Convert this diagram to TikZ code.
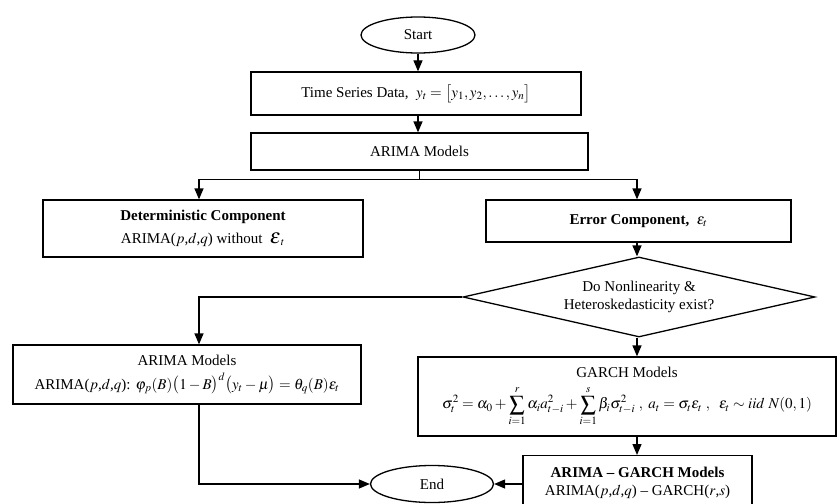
\documentclass[tikz,border=0pt]{standalone}
\usepackage{mathptmx}
\usepackage[no-math]{fontspec}
\setmainfont{Liberation Serif}
\usetikzlibrary{shapes.geometric,arrows.meta}
\begin{document}
\begin{tikzpicture}[x=1pt,y=-1pt,
  every node/.style={font=\fontsize{15}{18}\selectfont},
  box/.style={draw, line width=1.3pt, rectangle, align=center, inner sep=0pt},
  term/.style={draw, line width=1.3pt, ellipse, inner sep=0pt},
  decision/.style={draw, line width=1.3pt, diamond, aspect=4.4, inner sep=0pt, align=center},
  arr/.style={line width=1.3pt, -{Triangle[length=11pt,width=9pt]}},
  conn/.style={line width=1.3pt}]
\clip (0,0) rectangle (837,503);
\fill[white] (0,0) rectangle (837,503);

\node[term, minimum width=114, minimum height=36] (start) at (418,35) {Start};
\node[box, minimum width=330, minimum height=43] (ts) at (416,93.5) {Time Series Data,\ \ $y_t=\bigl[y_1,y_2,\dots,y_n\bigr]$};
\node[box, minimum width=337, minimum height=37] (arima) at (419.5,151.5) {ARIMA Models};
\node[box, minimum width=320, minimum height=57] (det) at (203,228.5) {\textbf{Deterministic Component}\\[5pt] ARIMA($p$,$d$,$q$) without\ \ $\mbox{\fontsize{21}{21}\selectfont$\varepsilon$}_t$};
\node[box, minimum width=305, minimum height=42] (err) at (638.5,221) {\textbf{Error Component,}\ \ $\varepsilon_t$};
\node[decision, minimum width=352, minimum height=80] (dia) at (639,297) {Do Nonlinearity \&\\ Heteroskedasticity exist?};
\node[box, minimum width=348, minimum height=59] (arl) at (187,374.5) {ARIMA Models\\[6pt] ARIMA($p$,$d$,$q$): $\varphi_p(B)\bigl(1-B\bigr)^d\bigl(y_t-\mu\bigr)=\theta_q(B)\varepsilon_t$};
\node[box, minimum width=418, minimum height=79] (garch) at (627,396.5) {GARCH Models\\[8pt] $\displaystyle \sigma_t^2=\alpha_0+\sum_{i=1}^{r}\alpha_i a_{t-i}^2+\sum_{i=1}^{s}\beta_i\sigma_{t-i}^2\ ,\ a_t=\sigma_t\varepsilon_t\ ,\ \ \varepsilon_t\sim iid\ N(0,1)$};
\node[box, minimum width=229, minimum height=54, anchor=north] (ag) at (637.5,455) {\textbf{ARIMA -- GARCH Models}\\ ARIMA($p$,$d$,$q$) -- GARCH($r$,$s$)};
\node[term, minimum width=123, minimum height=37] (end) at (432,484) {End};

\coordinate (lx) at (199,0);
\coordinate (mx) at (637,0);
\draw[arr] (start.south) -- (start.south |- ts.north);
\draw[arr] (start.south |- ts.south) -- (start.south |- arima.north);
\draw[conn] (arima.south) -- ++(0,9) coordinate (j);
\draw[arr] (j) -| (lx |- det.north);
\draw[arr] (j) -| (mx |- err.north);
\draw[arr] (mx |- err.south) -- (mx |- dia.north);
\draw[arr] (dia.west) -| (lx |- arl.north);
\draw[arr] (mx |- dia.south) -- (mx |- garch.north);
\draw[arr] (mx |- garch.south) -- (mx |- ag.north);
\draw[arr] (lx |- arl.south) |- (end.west);
\draw[arr] (ag.west |- end.east) -- (end.east);
\end{tikzpicture}
\end{document}
